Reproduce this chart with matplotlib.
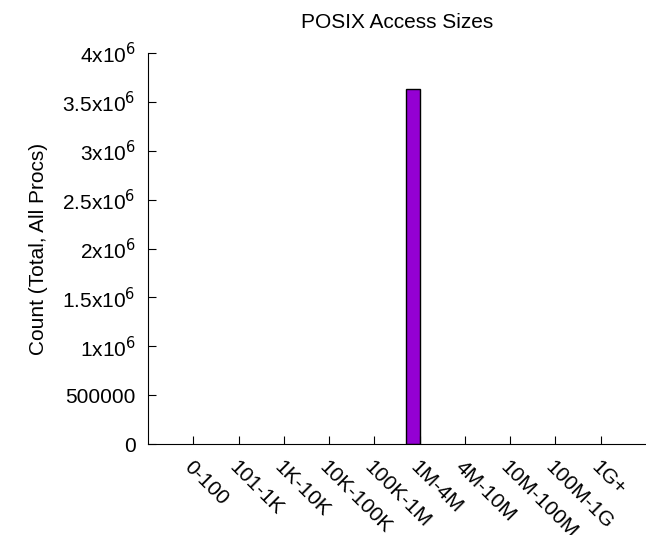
import matplotlib
matplotlib.use('Agg')
import matplotlib.pyplot as plt
from matplotlib.ticker import FixedLocator, FixedFormatter

plt.rcParams['font.family'] = ['Liberation Sans', 'DejaVu Sans']

# 数据
bins = ['0-100', '101-1K', '1K-10K', '10K-100K', '100K-1M',
        '1M-4M', '4M-10M', '10M-100M', '100M-1G', '1G+']
counts = [0, 0, 0, 0, 0, 3630000, 0, 0, 0, 0]
yticks = [0, 500000, 1e6, 1.5e6, 2e6, 2.5e6, 3e6, 3.5e6, 4e6]
ylabels = ['0', '500000', r'1x10$^6$', r'1.5x10$^6$', r'2x10$^6$',
           r'2.5x10$^6$', r'3x10$^6$', r'3.5x10$^6$', r'4x10$^6$']

fig = plt.figure(figsize=(6.46, 5.35), dpi=100)
ax = fig.add_axes([148 / 646, 91 / 535, 498 / 646, 391 / 535])

x = list(range(len(bins)))
# 只画非零的柱子
bx = [i - 0.3 for i, c in zip(x, counts) if c > 0]
bh = [c for c in counts if c > 0]
ax.bar(bx, bh, width=0.3, align='edge',
       color='#9400d3', edgecolor='black', linewidth=1)

ax.set_xlim(-1, 10)
ax.set_ylim(0, 4e6)
ax.spines['top'].set_visible(False)
ax.spines['right'].set_visible(False)

ax.yaxis.set_major_locator(FixedLocator(yticks))
ax.yaxis.set_major_formatter(FixedFormatter(ylabels))
ax.set_xticks(x)
ax.set_xticklabels(bins, rotation=-45, ha='left', va='top', rotation_mode='anchor')
ax.tick_params(direction='in', length=6, labelsize=15, pad=9)
ax.tick_params(axis='x', pad=10)

ax.set_ylabel('Count (Total, All Procs)', fontsize=15, labelpad=10)
ax.set_title('POSIX Access Sizes', fontsize=15, pad=18)

fig.savefig('out.png', dpi=100)
